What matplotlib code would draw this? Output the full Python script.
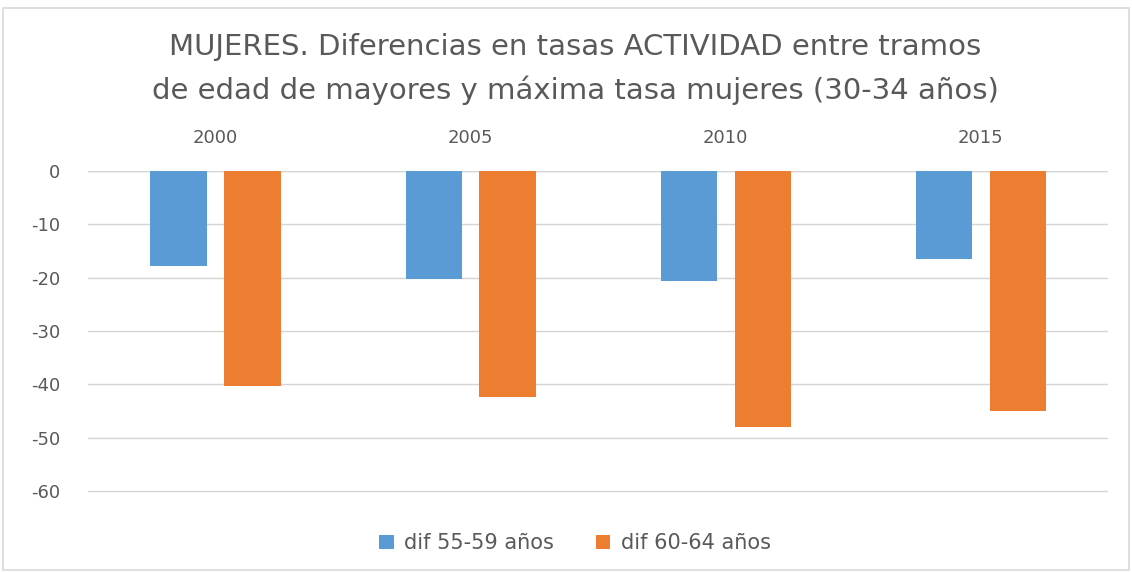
"""
Recreación del gráfico: diferencias en tasas de actividad de mujeres.
"""
import matplotlib
matplotlib.use("Agg")
import matplotlib.pyplot as plt
import numpy as np
from matplotlib.patches import Rectangle

# ─── Datos ──────────────────────────────────────────────────────────────────
years = ["2000", "2005", "2010", "2015"]
dif_55_59 = [-17.9, -20.2, -20.6, -16.5]
dif_60_64 = [-40.3, -42.3, -47.9, -44.9]
labels = ["dif 55-59 años", "dif 60-64 años"]

BLUE = "#5B9BD5"
ORANGE = "#ED7D31"
GRAY_TXT = "#595959"

plt.rcParams["font.family"] = ["DejaVu Sans"]
plt.rcParams["axes.unicode_minus"] = False

fig = plt.figure(figsize=(11.32, 5.73), dpi=100)
ax = fig.add_axes([0.0777, 0.140, 0.9013, 0.562])

x = np.arange(len(years))
w = 0.22
off = 0.145
b1 = ax.bar(x - off, dif_55_59, w, color=BLUE, label=labels[0], zorder=3)
b2 = ax.bar(x + off, dif_60_64, w, color=ORANGE, label=labels[1], zorder=3)

ax.set_xlim(-0.5, len(years) - 0.5)
ax.set_ylim(-60.3, 0)
ax.set_yticks(range(-60, 1, 10))
ax.yaxis.grid(True, color="#D4D4D4", linewidth=1, zorder=0)
ax.set_axisbelow(True)
for s in ax.spines.values():
    s.set_visible(False)
ax.axhline(0, color="#D4D4D4", linewidth=1, zorder=1)

ax.xaxis.tick_top()
ax.set_xticks(x)
ax.set_xticklabels(years)
ax.tick_params(axis="x", length=0, pad=17, labelsize=13, labelcolor=GRAY_TXT)
ax.tick_params(axis="y", length=0, pad=20, labelsize=13, labelcolor=GRAY_TXT)

fig.text(0.508, 0.918, "MUJERES. Diferencias en tasas ACTIVIDAD entre tramos",
         ha="center", va="center", fontsize=21, color=GRAY_TXT)
fig.text(0.508, 0.843, "de edad de mayores y máxima tasa mujeres (30-34 años)",
         ha="center", va="center", fontsize=21, color=GRAY_TXT)

fig.legend(handles=[b1, b2], labels=labels, loc="center",
           bbox_to_anchor=(0.508, 0.052), ncol=2, frameon=False,
           fontsize=15, labelcolor=GRAY_TXT, handlelength=0.7,
           handleheight=0.7, handletextpad=0.5, columnspacing=2.0)

# borde exterior del gráfico
fig.add_artist(Rectangle((0.003, 0.005), 0.994, 0.981, transform=fig.transFigure,
                         fill=False, edgecolor="#D9D9D9", linewidth=1.2))

fig.savefig("out.png", dpi=100)
plt.close(fig)
